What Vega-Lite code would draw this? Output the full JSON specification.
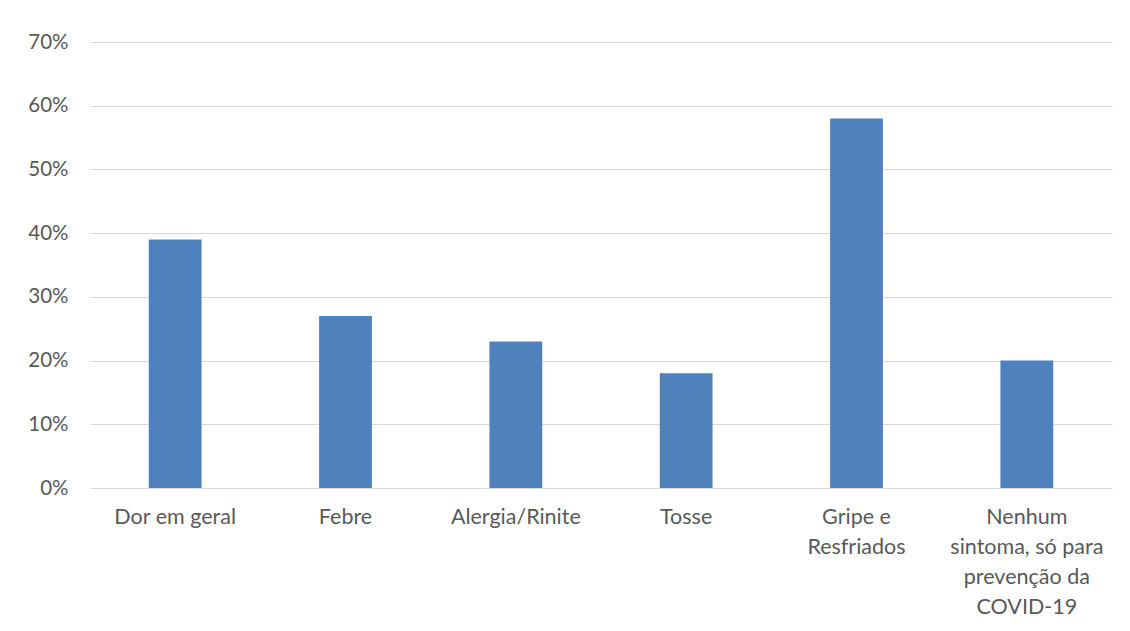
{
  "$schema": "https://vega.github.io/schema/vega-lite/v6.json",
  "width": 1022,
  "height": 446,
  "autosize": {"type": "none"},
  "padding": {"left": 90, "top": 42, "right": 18, "bottom": 143},
  "background": "white",
  "config": {
    "view": {"stroke": null},
    "font": "Lato",
    "axis": {"labelFont": "Lato", "labelColor": "#595959"}
  },
  "data": {
    "values": [
      {"sintoma": "Dor em geral", "valor": 0.39},
      {"sintoma": "Febre", "valor": 0.27},
      {"sintoma": "Alergia/Rinite", "valor": 0.23},
      {"sintoma": "Tosse", "valor": 0.18},
      {"sintoma": "Gripe e|Resfriados", "valor": 0.58},
      {"sintoma": "Nenhum|sintoma, só para|prevenção da|COVID-19", "valor": 0.20}
    ]
  },
  "mark": {"type": "bar", "color": "#4F81BD", "width": {"band": 0.31}},
  "encoding": {
    "x": {
      "field": "sintoma",
      "type": "nominal",
      "sort": null,
      "scale": {"paddingInner": 0, "paddingOuter": 0},
      "axis": {
        "title": null,
        "labelAngle": 0,
        "domain": false,
        "ticks": false,
        "labelFontSize": 21.5,
        "labelPadding": 18,
        "labelLineHeight": 30,
        "labelBaseline": "top",
        "labelExpr": "split(datum.label, '|')"
      }
    },
    "y": {
      "field": "valor",
      "type": "quantitative",
      "scale": {"domain": [0, 0.7]},
      "axis": {
        "title": null,
        "format": ".0%",
        "values": [0, 0.1, 0.2, 0.3, 0.4, 0.5, 0.6, 0.7],
        "domain": false,
        "ticks": false,
        "labelFontSize": 20.5,
        "labelPadding": 22,
        "gridColor": "#D9D9D9",
        "gridWidth": 1
      }
    }
  }
}
